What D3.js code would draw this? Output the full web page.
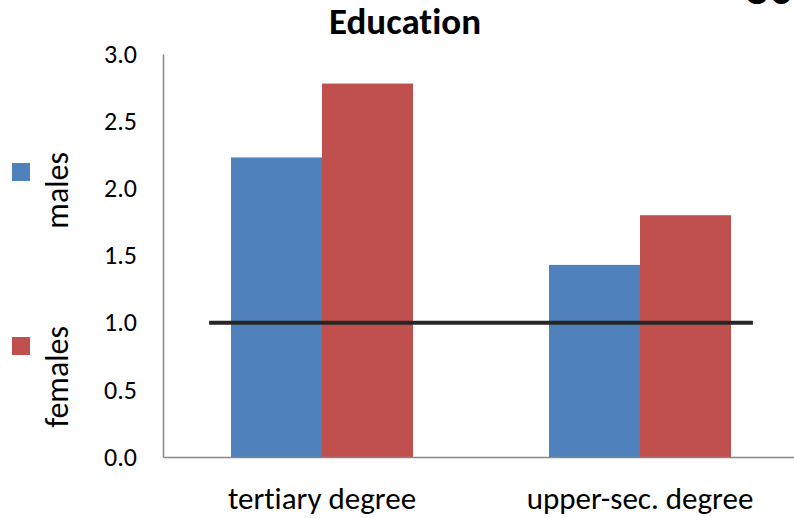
<!DOCTYPE html>
<html>
<head>
<meta charset="utf-8">
<style>
    body { margin: 0; background: #fff; }
    text { font-family: Carlito, Calibri, Lato, sans-serif; font-variant-ligatures: none; }
</style>
</head>
<body>
    <svg id="container" width="794" height="518"></svg>
<script src="https://cdn.jsdelivr.net/npm/d3@7"></script>
<script>
    // data
    let categories = ["tertiary degree", "upper-sec. degree"]
    let series = ["males", "females"]
    let males = [2.23, 1.43]
    let females = [2.78, 1.80]
    let refValue = 1.0
    let yTicks = [0, 0.5, 1, 1.5, 2, 2.5, 3]
    let colors = ["#4F81BD", "#C0504D"]

    let rows = categories.map((c, i) => ({ cat: c, males: males[i], females: females[i] }))

    let svg = d3.select("#container")

    let x0 = d3.scaleBand()
        .domain(categories)
        .range([163, 799])
        .padding(0)

    let x1 = d3.scaleBand()
        .domain(series)
        .range([0, x0.bandwidth()])
        .paddingInner(0)
        .paddingOuter(0.747)

    let y = d3.scaleLinear()
        .domain([0, 3])
        .range([457, 54])

    let color = d3.scaleOrdinal().domain(series).range(colors)

    // bars
    let groups = svg.append("g")
        .selectAll("g")
        .data(rows)
        .enter()
        .append("g")
        .attr("transform", d => "translate(" + x0(d.cat) + ",0)")

    groups.selectAll("rect")
        .data(d => series.map(s => ({ key: s, value: d[s] })))
        .enter()
        .append("rect")
        .attr("x", d => x1(d.key))
        .attr("y", d => y(d.value))
        .attr("width", x1.bandwidth())
        .attr("height", d => y(0) - y(d.value))
        .attr("fill", d => color(d.key))

    // y axis
    let yAxis = svg.append("g")
        .attr("transform", "translate(163,0)")
        .call(d3.axisLeft(y).tickValues(yTicks).tickFormat(d3.format(".1f")).tickSize(0).tickPadding(26))
    yAxis.select(".domain").attr("stroke", "#868686").attr("stroke-width", 1.5)
    yAxis.selectAll("text")
        .attr("font-size", 26)
        .attr("fill", "#000")
        .style("font-family", "Carlito, Calibri, Lato, sans-serif")

    // x axis
    let xAxis = svg.append("g")
        .attr("transform", "translate(0,457)")
        .call(d3.axisBottom(x0).tickSize(0).tickPadding(23))
    xAxis.select(".domain").attr("stroke", "#868686").attr("stroke-width", 1.5)
    xAxis.selectAll("text")
        .attr("font-size", 31)
        .attr("fill", "#000")
        .attr("dy", "0.92em")
        .style("font-family", "Carlito, Calibri, Lato, sans-serif")

    // reference line at 1.0
    let ext = x0.bandwidth() * 0.355
    svg.append("line")
        .attr("x1", x0(categories[0]) + x0.bandwidth() / 2 - ext)
        .attr("x2", x0(categories[1]) + x0.bandwidth() / 2 + ext)
        .attr("y1", y(refValue))
        .attr("y2", y(refValue))
        .attr("stroke", "#262626")
        .attr("stroke-width", 4)

    // title
    svg.append("text")
        .attr("x", 405)
        .attr("y", 34)
        .attr("text-anchor", "middle")
        .attr("font-size", 37)
        .attr("font-weight", "bold")
        .text("Education")

    // piece of the neighbouring chart's title, cut off at the top
    svg.append("text")
        .attr("x", 744)
        .attr("y", 4)
        .attr("font-size", 48)
        .attr("font-weight", "bold")
        .text("oc")

    // legend, rotated labels
    let legend = svg.append("g")
        .selectAll("g")
        .data(series)
        .enter()
        .append("g")
        .attr("transform", (d, i) => "translate(0," + (i * 174) + ")")

    legend.append("rect")
        .attr("x", 12)
        .attr("y", 163)
        .attr("width", 18)
        .attr("height", 18)
        .attr("fill", d => color(d))

    legend.append("text")
        .attr("transform", "translate(68,152) rotate(-90)")
        .attr("text-anchor", "end")
        .attr("font-size", 32)
        .text(d => d)
</script>
</body>
</html>
